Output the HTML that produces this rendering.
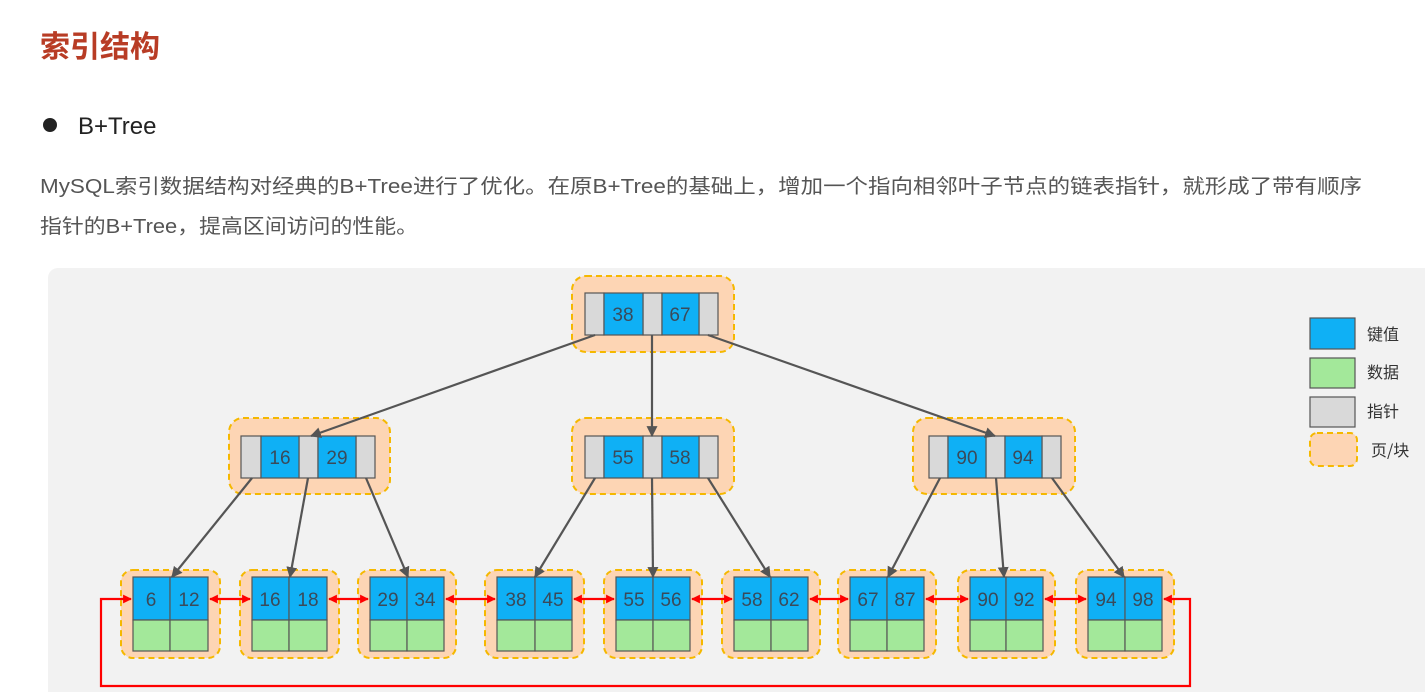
<!DOCTYPE html>
<html><head><meta charset="utf-8"><style>
html,body{margin:0;padding:0;background:#fff;}
svg{display:block;font-family:"Liberation Sans","Noto Sans CJK SC",sans-serif;}
</style></head><body>
<svg width="1425" height="692" viewBox="0 0 1425 692" xmlns="http://www.w3.org/2000/svg">
<defs>
<marker id="ag" viewBox="0 0 10 10" refX="9" refY="5" markerWidth="5" markerHeight="5" orient="auto"><path d="M0,0L10,5L0,10z" fill="#555"/></marker>
<marker id="ar" viewBox="0 0 10 10" refX="9" refY="5" markerWidth="4" markerHeight="4" orient="auto-start-reverse"><path d="M0,0L10,5L0,10z" fill="#f00"/></marker>
</defs>
<text x="40" y="57" font-size="30" font-weight="bold" fill="#b83c25" font-family="Noto Sans CJK SC,sans-serif">索引结构</text>
<circle cx="50" cy="125" r="7" fill="#222"/>
<text x="78" y="134" font-size="24" fill="#222">B+Tree</text>
<text x="40" y="193" font-size="20" fill="#555" textLength="1322" lengthAdjust="spacingAndGlyphs">MySQL索引数据结构对经典的B+Tree进行了优化。在原B+Tree的基础上，增加一个指向相邻叶子节点的链表指针，就形成了带有顺序</text>
<text x="40" y="233" font-size="20" fill="#555" textLength="378" lengthAdjust="spacingAndGlyphs">指针的B+Tree，提高区间访问的性能。</text>
<rect x="48" y="268" width="1400" height="440" rx="10" fill="#f2f2f2"/>

<g stroke="#f5b800" stroke-width="2" stroke-dasharray="6,4" fill="#fdd5b4">
<rect x="572" y="276" width="162" height="76" rx="14"/>
<rect x="229" y="418" width="161" height="76" rx="14"/>
<rect x="572" y="418" width="162" height="76" rx="14"/>
<rect x="913" y="418" width="162" height="76" rx="14"/>
<rect x="121" y="570" width="99" height="88" rx="12"/>
<rect x="240" y="570" width="99" height="88" rx="12"/>
<rect x="358" y="570" width="98" height="88" rx="12"/>
<rect x="485" y="570" width="99" height="88" rx="12"/>
<rect x="604" y="570" width="98" height="88" rx="12"/>
<rect x="722" y="570" width="98" height="88" rx="12"/>
<rect x="838" y="570" width="98" height="88" rx="12"/>
<rect x="958" y="570" width="97" height="88" rx="12"/>
<rect x="1076" y="570" width="98" height="88" rx="12"/>
<rect x="1310" y="433" width="47" height="33" rx="7"/>
</g>

<g stroke="#555" stroke-width="1.2">
<!-- internal nodes -->
<g fill="#d9d9d9"><rect x="585" y="293" width="19" height="42"/><rect x="643" y="293" width="19" height="42"/><rect x="699" y="293" width="19" height="42"/></g>
<g fill="#0fb0f5"><rect x="604" y="293" width="39" height="42"/><rect x="662" y="293" width="37" height="42"/></g>
<g fill="#d9d9d9"><rect x="241" y="436" width="20" height="42"/><rect x="299" y="436" width="19" height="42"/><rect x="356" y="436" width="19" height="42"/></g>
<g fill="#0fb0f5"><rect x="261" y="436" width="38" height="42"/><rect x="318" y="436" width="38" height="42"/></g>
<g fill="#d9d9d9"><rect x="585" y="436" width="19" height="42"/><rect x="643" y="436" width="19" height="42"/><rect x="699" y="436" width="19" height="42"/></g>
<g fill="#0fb0f5"><rect x="604" y="436" width="39" height="42"/><rect x="662" y="436" width="37" height="42"/></g>
<g fill="#d9d9d9"><rect x="929" y="436" width="19" height="42"/><rect x="986" y="436" width="19" height="42"/><rect x="1042" y="436" width="19" height="42"/></g>
<g fill="#0fb0f5"><rect x="948" y="436" width="38" height="42"/><rect x="1005" y="436" width="37" height="42"/></g>
<!-- leaves -->
<g fill="#0fb0f5">
<rect x="133" y="577" width="37" height="43"/><rect x="170" y="577" width="38" height="43"/>
<rect x="252" y="577" width="37" height="43"/><rect x="289" y="577" width="38" height="43"/>
<rect x="370" y="577" width="37" height="43"/><rect x="407" y="577" width="37" height="43"/>
<rect x="497" y="577" width="38" height="43"/><rect x="535" y="577" width="37" height="43"/>
<rect x="616" y="577" width="37" height="43"/><rect x="653" y="577" width="37" height="43"/>
<rect x="734" y="577" width="37" height="43"/><rect x="771" y="577" width="37" height="43"/>
<rect x="850" y="577" width="37" height="43"/><rect x="887" y="577" width="37" height="43"/>
<rect x="970" y="577" width="36" height="43"/><rect x="1006" y="577" width="37" height="43"/>
<rect x="1088" y="577" width="37" height="43"/><rect x="1125" y="577" width="37" height="43"/>
</g>
<g fill="#a3e89a">
<rect x="133" y="620" width="37" height="31"/><rect x="170" y="620" width="38" height="31"/>
<rect x="252" y="620" width="37" height="31"/><rect x="289" y="620" width="38" height="31"/>
<rect x="370" y="620" width="37" height="31"/><rect x="407" y="620" width="37" height="31"/>
<rect x="497" y="620" width="38" height="31"/><rect x="535" y="620" width="37" height="31"/>
<rect x="616" y="620" width="37" height="31"/><rect x="653" y="620" width="37" height="31"/>
<rect x="734" y="620" width="37" height="31"/><rect x="771" y="620" width="37" height="31"/>
<rect x="850" y="620" width="37" height="31"/><rect x="887" y="620" width="37" height="31"/>
<rect x="970" y="620" width="36" height="31"/><rect x="1006" y="620" width="37" height="31"/>
<rect x="1088" y="620" width="37" height="31"/><rect x="1125" y="620" width="37" height="31"/>
</g>
<rect x="1310" y="318" width="45" height="31" fill="#0fb0f5"/>
<rect x="1310" y="358" width="45" height="30" fill="#a3e89a"/>
<rect x="1310" y="397" width="45" height="30" fill="#d9d9d9"/>
</g>

<g font-size="19" fill="#3a4a5a" text-anchor="middle">
<text x="623" y="321">38</text><text x="680" y="321">67</text>
<text x="280" y="464">16</text><text x="337" y="464">29</text>
<text x="623" y="464">55</text><text x="680" y="464">58</text>
<text x="967" y="464">90</text><text x="1023" y="464">94</text>
<text x="151" y="606">6</text><text x="189" y="606">12</text>
<text x="270" y="606">16</text><text x="308" y="606">18</text>
<text x="388" y="606">29</text><text x="425" y="606">34</text>
<text x="516" y="606">38</text><text x="553" y="606">45</text>
<text x="634" y="606">55</text><text x="671" y="606">56</text>
<text x="752" y="606">58</text><text x="789" y="606">62</text>
<text x="868" y="606">67</text><text x="905" y="606">87</text>
<text x="988" y="606">90</text><text x="1024" y="606">92</text>
<text x="1106" y="606">94</text><text x="1143" y="606">98</text>
</g>

<g stroke="#555" stroke-width="2.2" marker-end="url(#ag)">
<line x1="595" y1="335" x2="311" y2="436"/>
<line x1="652" y1="335" x2="652" y2="436"/>
<line x1="708" y1="335" x2="995" y2="436"/>
<line x1="252" y1="478" x2="172" y2="577"/>
<line x1="308" y1="478" x2="290" y2="577"/>
<line x1="366" y1="478" x2="408" y2="577"/>
<line x1="595" y1="478" x2="535" y2="577"/>
<line x1="652" y1="478" x2="653" y2="577"/>
<line x1="708" y1="478" x2="770" y2="577"/>
<line x1="940" y1="478" x2="888" y2="577"/>
<line x1="996" y1="478" x2="1004" y2="577"/>
<line x1="1052" y1="478" x2="1124" y2="577"/>
</g>

<g stroke="#f00" stroke-width="2.2" fill="none">
<g marker-start="url(#ar)" marker-end="url(#ar)">
<line x1="210" y1="599" x2="250" y2="599"/>
<line x1="329" y1="599" x2="368" y2="599"/>
<line x1="446" y1="599" x2="495" y2="599"/>
<line x1="574" y1="599" x2="614" y2="599"/>
<line x1="692" y1="599" x2="732" y2="599"/>
<line x1="810" y1="599" x2="848" y2="599"/>
<line x1="926" y1="599" x2="968" y2="599"/>
<line x1="1045" y1="599" x2="1086" y2="599"/>
</g>
<polyline points="1164,599 1190,599 1190,686 101,686 101,599 131,599" marker-start="url(#ar)" marker-end="url(#ar)"/>
</g>

<g font-size="16" fill="#333" font-family="Noto Sans CJK SC,sans-serif">
<text x="1367" y="340">键值</text>
<text x="1367" y="378">数据</text>
<text x="1367" y="417">指针</text>
<text x="1371" y="456">页/块</text>
</g>
</svg>
</body></html>
